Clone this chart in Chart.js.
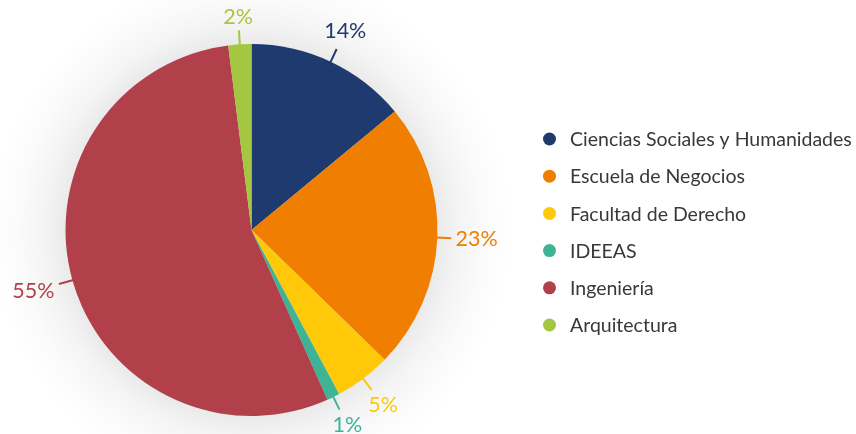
<!DOCTYPE html>
<html>
<head>
<meta charset="utf-8">
<script src="https://cdn.jsdelivr.net/npm/chart.js@4.4.1/dist/chart.umd.min.js"></script>
<style>
  html, body { margin: 0; padding: 0; background: #fff; }
  #wrap { width: 856px; height: 434px; position: relative; }
</style>
</head>
<body>
<div id="wrap"><canvas id="myChart"></canvas></div>
<script>
// data (shares in %)
var categories = ['Ciencias Sociales y Humanidades', 'Escuela de Negocios', 'Facultad de Derecho', 'IDEEAS', 'Ingeniería', 'Arquitectura'];
var shares = [14.0, 23.3, 4.9, 1.1, 54.7, 2.0];
var sliceColors = ['#1e3a6e', '#f07e00', '#ffc90a', '#3eb497', '#b2404a', '#a5c640'];

var FONT = 'Lato, "Noto Sans", sans-serif';

// soft grey halo behind the pie
var haloPlugin = {
  id: 'halo',
  beforeDatasetsDraw: function(chart) {
    var arc = chart.getDatasetMeta(0).data[0];
    if (!arc) return;
    var ctx = chart.ctx;
    var r = arc.outerRadius;
    var g = ctx.createRadialGradient(arc.x, arc.y, r - 2, arc.x, arc.y, r + 75);
    g.addColorStop(0, 'rgba(0,0,0,0.085)');
    g.addColorStop(0.3, 'rgba(0,0,0,0.045)');
    g.addColorStop(0.65, 'rgba(0,0,0,0.015)');
    g.addColorStop(1, 'rgba(0,0,0,0)');
    ctx.save();
    ctx.fillStyle = g;
    ctx.beginPath();
    ctx.arc(arc.x, arc.y, r + 75, 0, Math.PI * 2);
    ctx.fill();
    ctx.restore();
  }
};

// percentage labels with short leader lines
var pctLabels = {
  id: 'pctLabels',
  afterDatasetsDraw: function(chart) {
    var ctx = chart.ctx;
    var meta = chart.getDatasetMeta(0);
    ctx.save();
    ctx.font = '21.5px ' + FONT;
    ctx.textAlign = 'center';
    ctx.textBaseline = 'middle';
    meta.data.forEach(function(arc, i) {
      var mid = (arc.startAngle + arc.endAngle) / 2;
      var c = Math.cos(mid), s = Math.sin(mid);
      var r = arc.outerRadius;
      var col = sliceColors[i];
      ctx.strokeStyle = col;
      ctx.lineWidth = 2;
      ctx.beginPath();
      ctx.moveTo(arc.x + c * (r - 1), arc.y + s * (r - 1));
      ctx.lineTo(arc.x + c * (r + 14), arc.y + s * (r + 14));
      ctx.stroke();
      var txt = Math.round(shares[i]) + '%';
      var hw = ctx.measureText(txt).width / 2;
      var hh = 8;
      var rr = r + 18 + hw * Math.abs(c) + hh * Math.abs(s);
      ctx.fillStyle = col;
      ctx.fillText(txt, arc.x + c * rr, arc.y + s * rr);
    });
    ctx.restore();
  }
};

// legend on the right, drawn from the chart data
var sideLegend = {
  id: 'sideLegend',
  afterDraw: function(chart) {
    var ctx = chart.ctx;
    var labels = chart.data.labels;
    var bg = chart.data.datasets[0].backgroundColor;
    ctx.save();
    ctx.font = '19.5px ' + FONT;
    ctx.textAlign = 'left';
    ctx.textBaseline = 'middle';
    for (var i = 0; i < labels.length; i++) {
      var y = 139 + i * 37.2;
      ctx.fillStyle = bg[i];
      ctx.beginPath();
      ctx.arc(549.5, y, 6.5, 0, Math.PI * 2);
      ctx.fill();
      ctx.fillStyle = '#383838';
      ctx.fillText(labels[i], 570, y + 1);
    }
    ctx.restore();
  }
};

var ctx = document.getElementById('myChart').getContext('2d');
var chart = new Chart(ctx, {
  type: 'pie',
  data: {
    labels: categories,
    datasets: [{
      data: shares,
      backgroundColor: sliceColors,
      borderWidth: 0
    }]
  },
  options: {
    responsive: true,
    maintainAspectRatio: false,
    animation: false,
    radius: 186,
    layout: { padding: { left: 0, right: 353, top: 26, bottom: 0 } },
    plugins: {
      legend: { display: false },
      tooltip: { enabled: false }
    }
  },
  plugins: [haloPlugin, pctLabels, sideLegend]
});
</script>
</body>
</html>
